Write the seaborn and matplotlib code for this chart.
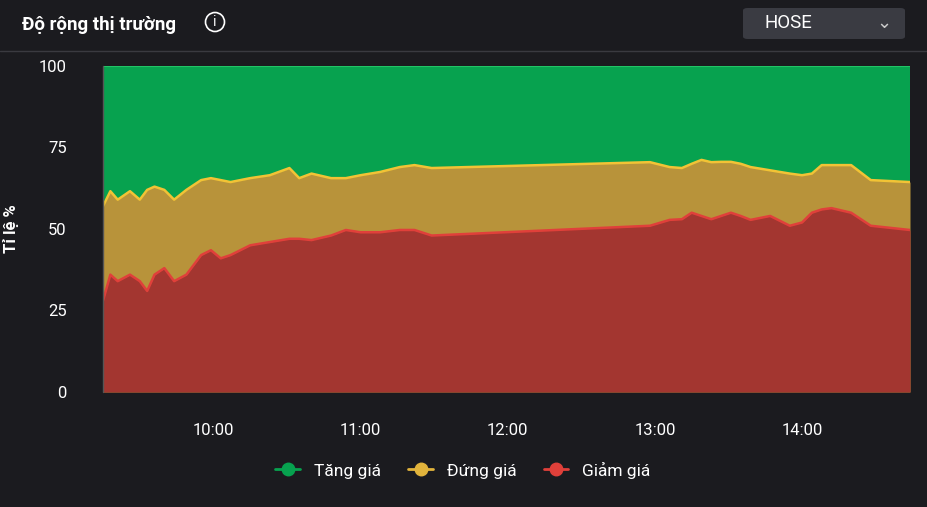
import matplotlib
matplotlib.use("Agg")
import matplotlib.pyplot as plt
import seaborn as sns
import pandas as pd
from matplotlib.lines import Line2D
from matplotlib.patches import FancyBboxPatch, Ellipse

# minutes after 09:00
minutes = [15,18,21,26,30,33,36,40,44,49,55,59,63,67,75,83,91,95,100,108,114,120,128,136,142,149,
           238,246,251,255,259,263,267,271,275,279,287,295,300,304,308,312,320,328,344]
giam = [28,36,34,36,34,31,36,38,34,36,42,43.5,41,42,45,46,47,47,46.6,48,49.7,49,49,49.7,49.7,48,
        51,52.8,53,55,54,53,54,55,54,52.8,54,51,52,55,56,56.4,55,51,49.7]
giam_dung = [57,61.6,59,61.6,59,62,63,62,59,62,65,65.6,65,64.4,65.6,66.5,68.7,65.6,67,65.6,65.6,66.5,67.5,69,69.6,68.7,
             70.5,69,68.7,70,71.2,70.5,70.6,70.6,70,69,68,67,66.5,67,69.6,69.6,69.6,65,64.4]
tick_minutes = [60,120,180,240,300]
tick_labels = ["10:00","11:00","12:00","13:00","14:00"]
yticks = [0,25,50,75,100]

df = pd.DataFrame({"t": minutes, "giam": giam, "top": giam_dung})

BG = "#1b1b1f"
sns.set_theme(style="dark")
plt.rcParams['font.family'] = ['Roboto', 'DejaVu Sans']

fig = plt.figure(figsize=(9.27, 5.07), dpi=100, facecolor=BG)
ax = fig.add_axes([103/927, 1-392/507, 807/927, 326/507])
ax.set_facecolor(BG)

green, yellow_f, red_f = "#07a24f", "#b8933a", "#a33630"
yellow_l, red_l = "#f2c335", "#e0403a"

ax.fill_between(df.t, 0, 100, color=green, lw=0)
ax.fill_between(df.t, 0, df["top"], color=yellow_f, lw=0)
ax.fill_between(df.t, 0, df["giam"], color=red_f, lw=0)
sns.lineplot(data=df, x="t", y="top", ax=ax, color=yellow_l, lw=1.8)
sns.lineplot(data=df, x="t", y="giam", ax=ax, color=red_l, lw=1.8)
ax.plot([minutes[0], minutes[-1]], [100, 100], color="#22c466", lw=1.5)

ax.set_xlim(minutes[0], minutes[-1])
ax.set_ylim(0, 100)
ax.set_xticks(tick_minutes, tick_labels)
ax.set_yticks(yticks)
ax.tick_params(colors="white", labelsize=12, length=0)
ax.tick_params(axis="x", pad=22)
ax.tick_params(axis="y", pad=26)
ax.set_xlabel("")
ax.set_ylabel("Tỉ lệ %", color="white", fontsize=12, labelpad=14, fontweight="bold")
ax.grid(False)
for s in ax.spines.values():
    s.set_visible(False)
ax.plot([0, 0], [0, 1], transform=ax.transAxes, color="#555", lw=1, clip_on=False)

# header
fig.text(22/927, 1-25/507, "Độ rộng thị trường", color="white", fontsize=13.5, va="center", fontweight="bold")
fig.add_artist(Ellipse((215/927, 1-22/507), 19/927, 19/507, fill=False, ec="white", lw=1.2,
                       transform=fig.transFigure))
fig.text(215/927, 1-22/507, "i", color="white", fontsize=10, va="center", ha="center")
fig.add_artist(Line2D([0, 1], [1-51/507]*2, color="#3a3a40", lw=1))
fig.add_artist(FancyBboxPatch((743/927, 1-39/507), 162/927, 31/507,
                              boxstyle="round,pad=0,rounding_size=0.005", fc="#3a3b42", ec="none",
                              transform=fig.transFigure))
fig.text(765/927, 1-23/507, "HOSE", color="white", fontsize=13.5, va="center")
fig.text(884/927, 1-23/507, "⌄", color="#cccccc", fontsize=13, va="center", ha="center")

handles = [Line2D([], [], marker="o", ls="-", lw=2, color=c, markersize=9) for c in (green, "#e2b43c", red_l)]
leg = fig.legend(handles, ["Tăng giá", "Đứng giá", "Giảm giá"], loc="center", ncol=3,
                 bbox_to_anchor=(463/927, 1-470/507), frameon=False, handlelength=1.4,
                 columnspacing=1.6, fontsize=12.5, labelcolor="white")

fig.savefig("out.png", dpi=100, facecolor=BG)
